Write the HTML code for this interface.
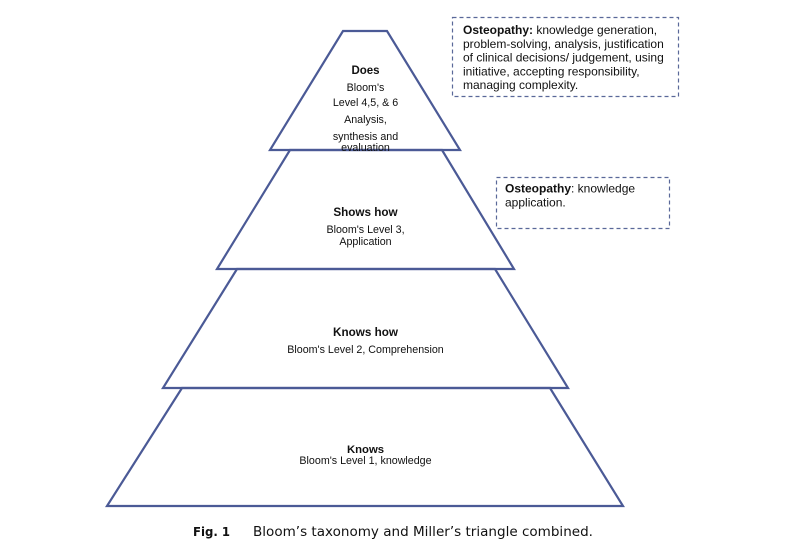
<!DOCTYPE html>
<html>
<head>
<meta charset="utf-8">
<style>
  html, body { margin: 0; padding: 0; background: #ffffff; }
  body { width: 802px; height: 549px; overflow: hidden; }
  svg { display: block; }
  .t { font-family: "Liberation Sans", Arial, sans-serif; fill: #111; }
  .b { font-weight: bold; }
  .cap { font-family: "DejaVu Sans", Verdana, sans-serif; fill: #111; }
</style>
</head>
<body>
<svg width="802" height="549" viewBox="0 0 802 549" xmlns="http://www.w3.org/2000/svg">
  <rect x="0" y="0" width="802" height="549" fill="#ffffff"/>

  <g fill="none" stroke="#4b5a96" stroke-width="2.2" stroke-linejoin="miter">
    <polygon points="343,31 387,31 460,150 270,150"/>
    <polygon points="290,150 442,150 514,269 217,269"/>
    <polygon points="237,269 495,269 568,388 163,388"/>
    <polygon points="182,388 550,388 623,506 107,506"/>
  </g>

  <g fill="none" stroke="#5a6899" stroke-width="1.2" stroke-dasharray="4,3">
    <rect x="452.5" y="17.5" width="226" height="79"/>
    <rect x="496.5" y="177.5" width="173" height="51"/>
  </g>

  <!-- Does -->
  <text class="t b" x="365.5" y="74" font-size="11.5" text-anchor="middle">Does</text>
  <text class="t" x="365.5" y="91" font-size="10.7" text-anchor="middle">Bloom's</text>
  <text class="t" x="365.5" y="106" font-size="10.7" text-anchor="middle">Level 4,5, &amp; 6</text>
  <text class="t" x="365.5" y="123" font-size="10.7" text-anchor="middle">Analysis,</text>
  <text class="t" x="365.5" y="140" font-size="10.7" text-anchor="middle">synthesis and</text>
  <text class="t" x="365.5" y="151" font-size="10.7" text-anchor="middle">evaluation</text>

  <!-- Shows how -->
  <text class="t b" x="365.5" y="216" font-size="11.7" text-anchor="middle">Shows how</text>
  <text class="t" x="365.5" y="233" font-size="10.7" text-anchor="middle">Bloom's Level 3,</text>
  <text class="t" x="365.5" y="245" font-size="10.7" text-anchor="middle">Application</text>

  <!-- Knows how -->
  <text class="t b" x="365.5" y="336" font-size="11.7" text-anchor="middle">Knows how</text>
  <text class="t" x="365.5" y="353" font-size="10.7" text-anchor="middle">Bloom's Level 2, Comprehension</text>

  <!-- Knows -->
  <text class="t b" x="365.5" y="453" font-size="11.3" text-anchor="middle">Knows</text>
  <text class="t" x="365.5" y="464" font-size="10.7" text-anchor="middle">Bloom's Level 1, knowledge</text>

  <!-- Box 1 -->
  <text class="t" x="463" y="34" font-size="12"><tspan font-weight="bold">Osteopathy:</tspan> knowledge generation,</text>
  <text class="t" x="463" y="47.8" font-size="12">problem-solving, analysis, justification</text>
  <text class="t" x="463" y="61.6" font-size="12">of clinical decisions/  judgement, using</text>
  <text class="t" x="463" y="75.4" font-size="12">initiative, accepting responsibility,</text>
  <text class="t" x="463" y="89.2" font-size="12">managing complexity.</text>

  <!-- Box 2 -->
  <text class="t" x="505" y="192.5" font-size="12"><tspan font-weight="bold">Osteopathy</tspan>: knowledge</text>
  <text class="t" x="505" y="206.5" font-size="12">application.</text>

  <!-- Caption -->
  <text class="cap" x="193" y="536" font-size="12" font-weight="bold" textLength="37" lengthAdjust="spacingAndGlyphs">Fig. 1</text>
  <text class="cap" x="253" y="536" font-size="13" textLength="340" lengthAdjust="spacingAndGlyphs">Bloom’s taxonomy and Miller’s triangle combined.</text>
</svg>
</body>
</html>
